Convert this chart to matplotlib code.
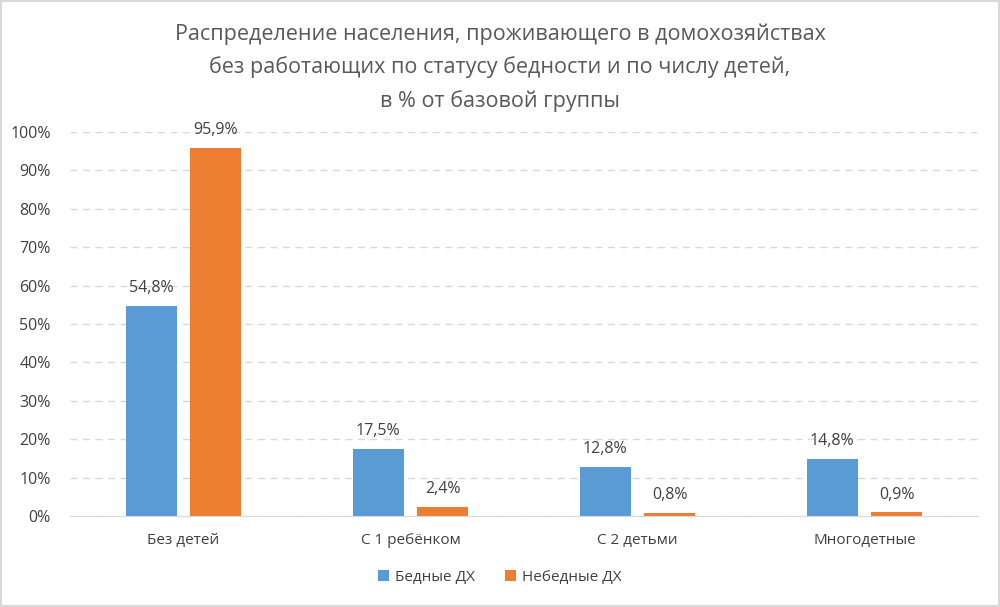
import matplotlib
matplotlib.use("Agg")
import matplotlib.pyplot as plt
import numpy as np
from matplotlib.patches import Rectangle

plt.rcParams['font.family'] = ['Open Sans', 'DejaVu Sans']

categories = ["Без детей", "С 1 ребёнком", "С 2 детьми", "Многодетные"]
poor = [54.8, 17.5, 12.8, 14.8]
nonpoor = [95.9, 2.4, 0.8, 0.9]
series_names = ["Бедные ДХ", "Небедные ДХ"]
yticks = [0, 10, 20, 30, 40, 50, 60, 70, 80, 90, 100]
title = "Распределение населения, проживающего в домохозяйствах\nбез работающих по статусу бедности и по числу детей,\nв % от базовой группы"

c_blue = "#5B9BD5"
c_orange = "#ED7D31"
txt = "#404040"

fig = plt.figure(figsize=(10, 6.07), dpi=100)
ax = fig.add_axes([0.07, 0.150, 0.908, 0.6326])

x = np.arange(len(categories))
w = 0.225
off = 0.142
b1 = ax.bar(x - off, poor, w, color=c_blue, label=series_names[0], zorder=3)
b2 = ax.bar(x + off, nonpoor, w, color=c_orange, label=series_names[1], zorder=3)

for bars, vals in ((b1, poor), (b2, nonpoor)):
    for b, v in zip(bars, vals):
        ax.annotate(f"{v:.1f}%".replace(".", ","), (b.get_x() + b.get_width() / 2, v),
                    xytext=(0, 7), textcoords="offset points", ha="center", va="bottom",
                    fontsize=11.5, color=txt)

ax.set_xlim(-0.5, len(categories) - 0.5)
ax.set_ylim(0, 100)
ax.set_yticks(yticks)
ax.set_yticklabels([f"{t}%" for t in yticks], fontsize=11.5, color=txt)
ax.set_xticks(x)
ax.set_xticklabels(categories, fontsize=11, color=txt)
ax.tick_params(axis='both', length=0)
ax.tick_params(axis='x', pad=12)
ax.tick_params(axis='y', pad=14)
ax.grid(axis='y', color="#D9D9D9", linestyle=(0, (5, 4)), linewidth=1, zorder=0)
for s in ("top", "right", "left"):
    ax.spines[s].set_visible(False)
ax.spines["bottom"].set_color("#D9D9D9")
ax.spines["bottom"].set_zorder(4)

fig.text(0.5, 0.962, title, ha="center", va="top", fontsize=15.5, color="#595959", linespacing=1.7)

leg = fig.legend(handles=[b1, b2], loc="center", bbox_to_anchor=(0.5, 0.049), ncol=2, frameon=False,
                 fontsize=11, handlelength=0.7, handleheight=0.7, columnspacing=2.0, handletextpad=0.4)
for t in leg.get_texts():
    t.set_color(txt)

fig.patches.append(Rectangle((0.001, 0.001), 0.998, 0.998, transform=fig.transFigure,
                             fill=False, edgecolor="#D9D9D9", linewidth=1.5))

fig.savefig("out.png", dpi=100, facecolor="white")
